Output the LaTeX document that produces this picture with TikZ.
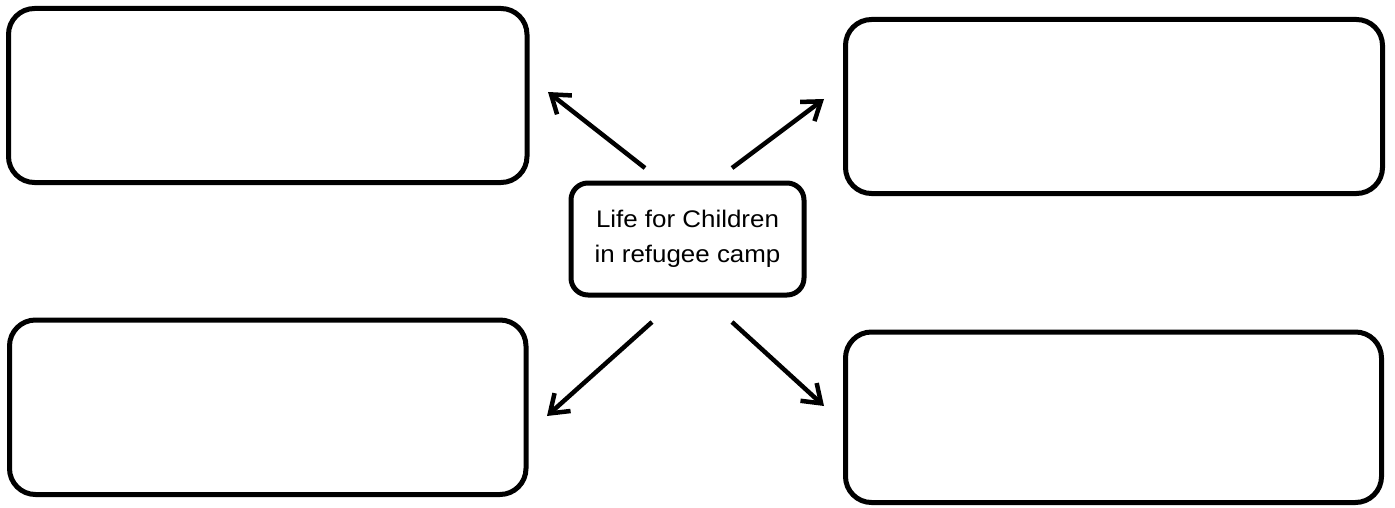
\documentclass[tikz,border=0pt]{standalone}
\usepackage{fontspec}
\newfontfamily\lab[FakeStretch=1.08]{Liberation Sans}
\usetikzlibrary{arrows.meta}
\begin{document}
\begin{tikzpicture}[x=1pt,y=-1pt,
  bigbox/.style={draw=black,line width=5pt,rounded corners=26pt,inner sep=0pt,anchor=center},
  midbox/.style={draw=black,line width=5pt,rounded corners=17pt,inner sep=0pt,anchor=center,
     align=center,font=\lab\fontsize{24}{34.5}\selectfont},
  link/.style={line width=4.5pt,-{Straight Barb[length=17pt,width=24pt,line width=4.5pt]}}]
\useasboundingbox (0,0) rectangle (1395,508);
\node[bigbox,minimum width=518.5pt,minimum height=174pt] (tl) at (267.75,95.5) {};
\node[bigbox,minimum width=537pt,minimum height=174pt] (tr) at (1114,106.5) {};
\node[bigbox,minimum width=516.5pt,minimum height=174.5pt] (bl) at (267.75,407.25) {};
\node[bigbox,minimum width=536pt,minimum height=170.5pt] (br) at (1113.5,417.25) {};
\node[midbox,minimum width=233pt,minimum height=112pt] (c) at (687.5,239) {Life for Children\\in refugee camp};
\coordinate (s1) at (645,168);
\coordinate (e1) at (548,92);
\coordinate (s2) at (732,168);
\coordinate (e2) at (824,99);
\coordinate (s3) at (652,322);
\coordinate (e3) at (547,416);
\coordinate (s4) at (732,322);
\coordinate (e4) at (824,406);
\draw[link] (s1) -- (e1);
\draw[link] (s2) -- (e2);
\draw[link] (s3) -- (e3);
\draw[link] (s4) -- (e4);
\end{tikzpicture}
\end{document}
